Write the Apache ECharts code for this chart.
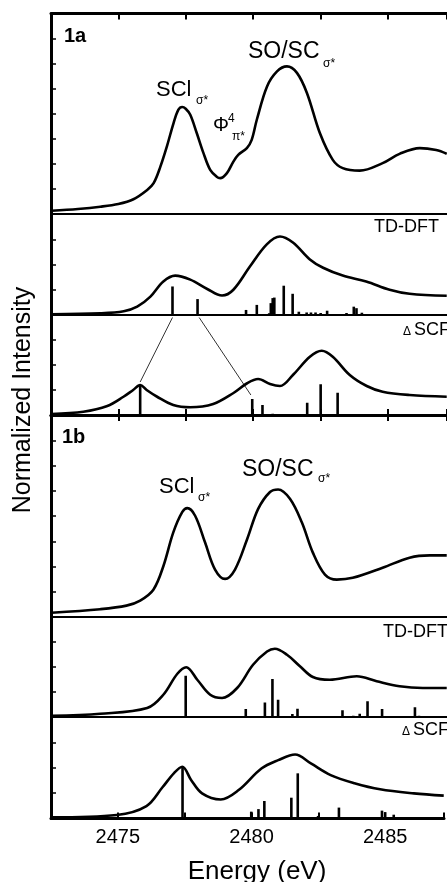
<!DOCTYPE html>
<html>
<head>
<meta charset="utf-8">
<script src="https://cdn.jsdelivr.net/npm/echarts@6/dist/echarts.min.js"></script>
<style>
  html, body { margin: 0; padding: 0; background: #fff; }
  #chart { width: 447px; height: 882px; }
</style>
</head>
<body>
<div id="chart"></div>
<script>
// energy range (eV)
var xMin = 2472.5, xMax = 2487.2;

// 1a - experiment
var exp1a = [[2472.52,0.13],[2473.5,0.2],[2474.33,0.29],[2475.0,0.4],[2475.56,0.59],[2476.07,0.96],[2476.31,1.23],
  [2476.56,1.89],[2476.8,2.69],[2477.05,3.63],[2477.23,4.16],[2477.37,4.27],[2477.5,4.2],[2477.67,3.96],[2477.91,3.23],
  [2478.16,2.43],[2478.41,1.76],[2478.65,1.49],[2478.78,1.43],[2479.03,1.63],[2479.27,2.09],[2479.45,2.36],[2479.77,2.63],
  [2479.95,2.96],[2480.14,3.76],[2480.52,5.09],[2480.89,5.69],[2481.26,5.89],[2481.63,5.63],[2482.0,4.83],[2482.48,3.23],
  [2482.96,2.16],[2483.33,1.83],[2483.96,1.73],[2484.81,2.03],[2485.44,2.4],[2486.19,2.63],[2486.8,2.55],[2487.19,2.4]];

// 1a - TD-DFT
var td1a = [[2472.52,0.03],[2474.33,0.07],[2475.2,0.15],[2475.7,0.33],[2476.19,0.73],[2476.67,1.33],[2477.11,1.56],
  [2477.67,1.4],[2478.3,1.03],[2478.85,0.77],[2479.27,1.0],[2479.89,1.93],[2480.51,2.8],[2481.0,3.11],[2481.48,2.87],
  [2482.11,2.2],[2482.6,1.87],[2483.33,1.56],[2484.2,1.33],[2485.07,1.0],[2485.81,0.84],[2487.19,0.76]];
var td1aSticks = [[2477.01,1.13],[2477.94,0.63],[2479.74,0.2],[2480.14,0.4],[2480.6,0.07],[2480.66,0.47],[2480.73,0.67],
  [2480.79,0.69],[2481.14,1.16],[2481.47,0.84],[2481.7,0.13],[2481.99,0.1],[2482.15,0.1],[2482.32,0.1],[2482.51,0.08],
  [2482.75,0.17],[2483.47,0.08],[2483.74,0.33],[2483.84,0.27],[2484.04,0.09]];

// 1a - delta SCF
var scf1a = [[2472.52,0.04],[2473.7,0.13],[2474.59,0.36],[2475.19,0.73],[2475.55,1.0],[2475.81,1.2],[2476.05,1.0],
  [2476.44,0.73],[2477.04,0.4],[2477.67,0.31],[2478.52,0.44],[2479.26,0.87],[2479.78,1.27],[2480.19,1.44],[2480.63,1.24],
  [2481.0,1.16],[2481.48,1.6],[2482.11,2.33],[2482.55,2.57],[2482.96,2.33],[2483.59,1.6],[2484.22,1.16],[2484.81,0.93],
  [2485.81,0.8],[2487.19,0.73]];
var scf1aSticks = [[2475.81,1.2],[2478.2,0.04],[2479.97,0.64],[2480.35,0.4],[2480.73,0.05],[2482.01,0.49],[2482.51,1.23],
  [2483.14,0.89]];

// lines linking TD-DFT sticks to delta SCF sticks (in delta SCF units)
var links = [
  [[2477.01,3.9],[2475.81,1.32]],
  [[2478.0,3.9],[2479.92,0.8]]
];

// 1b - experiment
var exp1b = [[2472.52,0.17],[2474.33,0.31],[2475.3,0.45],[2475.81,0.65],[2476.3,1.08],[2476.67,2.01],[2477.04,3.35],
  [2477.37,4.15],[2477.56,4.31],[2477.85,4.01],[2478.22,2.95],[2478.59,1.88],[2478.96,1.51],[2479.33,1.88],[2479.78,3.08],
  [2480.19,4.28],[2480.63,4.95],[2480.93,5.05],[2481.37,4.68],[2481.81,3.75],[2482.22,2.55],[2482.67,1.68],[2483.11,1.48],
  [2483.7,1.55],[2484.81,1.95],[2485.81,2.35],[2486.56,2.44],[2487.19,2.44]];

// 1b - TD-DFT
var td1b = [[2472.52,0.05],[2474.33,0.13],[2476.07,0.36],[2476.67,0.89],[2477.19,1.73],[2477.52,1.99],[2477.93,1.49],
  [2478.41,0.89],[2478.85,0.76],[2479.41,1.16],[2480.0,2.09],[2480.52,2.62],[2480.81,2.73],[2481.26,2.49],[2481.74,2.03],
  [2482.22,1.6],[2482.85,1.49],[2483.85,1.63],[2484.59,1.43],[2485.44,1.23],[2486.3,1.16],[2487.19,1.16]];
var td1bSticks = [[2477.5,1.65],[2479.73,0.32],[2480.44,0.58],[2480.72,1.52],[2480.93,0.69],[2481.46,0.12],[2481.65,0.33],
  [2483.32,0.27],[2483.72,0.05],[2483.96,0.13],[2484.25,0.63],[2484.79,0.32],[2486.01,0.39],[2486.16,0.05]];

// 1b - delta SCF
var scf1b = [[2472.52,0.05],[2474.96,0.14],[2476.07,0.49],[2476.67,1.23],[2477.11,1.8],[2477.41,2.04],[2477.74,1.52],
  [2478.15,0.99],[2478.85,0.75],[2479.52,1.12],[2480.37,1.97],[2481.0,2.3],[2481.63,2.52],[2482.22,2.17],[2482.96,1.71],
  [2483.85,1.39],[2484.81,1.15],[2486.07,0.99],[2487.19,0.9]];
var scf1bSticks = [[2477.42,2.04],[2479.99,0.27],[2480.26,0.37],[2480.48,0.69],[2481.49,0.82],[2481.73,1.78],[2482.49,0.1],
  [2483.27,0.43],[2484.88,0.31],[2485.0,0.25],[2485.32,0.15]];

var xTicks = [2475, 2480, 2485];

// panel layout: top, height, y max
var panels = [
  { top: 13.5, height: 200.5, ymax: 8 },
  { top: 214, height: 101, ymax: 4 },
  { top: 315, height: 100, ymax: 4 },
  { top: 415, height: 202, ymax: 8 },
  { top: 617, height: 100, ymax: 4 },
  { top: 717, height: 101.5, ymax: 4 }
];

var font = '"Liberation Sans", Arial, Helvetica, sans-serif';
var frame = [2, 5];   // bottoms with ticks

var grids = [], xAxes = [], yAxes = [];
panels.forEach(function (p, i) {
  grids.push({ left: 51, right: 0, top: p.top, height: p.height });
  var isFrame = frame.indexOf(i) >= 0;
  xAxes.push({
    type: 'value', gridIndex: i, min: xMin, max: xMax, interval: 2.5, position: 'bottom',
    axisLine: { onZero: false, lineStyle: { color: '#000', width: isFrame ? 3 : 2 } },
    axisTick: { show: isFrame, inside: true, length: 6, lineStyle: { color: '#000', width: 2 } },
    axisLabel: {
      show: i === 5, color: '#000', fontSize: 20, fontFamily: font, margin: 9,
      formatter: function (v) { return xTicks.indexOf(v) >= 0 ? String(v) : ''; }
    },
    splitLine: { show: false }
  });
  yAxes.push({
    type: 'value', gridIndex: i, min: 0, max: p.ymax, interval: 1,
    axisLine: { show: true, onZero: false, lineStyle: { color: '#000', width: 3 } },
    axisTick: { show: true, inside: true, length: 5, lineStyle: { color: '#000', width: 1.5 } },
    axisLabel: { show: false },
    splitLine: { show: false }
  });
});
// top frame axes of 1a and 1b
[0, 3].forEach(function (g) {
  xAxes.push({
    type: 'value', gridIndex: g, min: xMin, max: xMax, interval: 2.5, position: 'top',
    axisLine: { onZero: false, lineStyle: { color: '#000', width: 3 } },
    axisTick: { show: true, inside: true, length: 6, lineStyle: { color: '#000', width: 2 } },
    axisLabel: { show: false },
    splitLine: { show: false }
  });
});

function curve(data, i) {
  return {
    type: 'line', xAxisIndex: i, yAxisIndex: i, data: data, smooth: 0.35,
    showSymbol: false, silent: true,
    lineStyle: { color: '#000', width: 2.6 }
  };
}
function sticks(data, i) {
  return {
    type: 'bar', xAxisIndex: i, yAxisIndex: i, data: data, barWidth: 2.6,
    silent: true, itemStyle: { color: '#000' }
  };
}

var series = [
  curve(exp1a, 0),
  curve(td1a, 1), sticks(td1aSticks, 1),
  curve(scf1a, 2), sticks(scf1aSticks, 2),
  curve(exp1b, 3),
  curve(td1b, 4), sticks(td1bSticks, 4),
  curve(scf1b, 5), sticks(scf1bSticks, 5)
];
links.forEach(function (l) {
  series.push({
    type: 'line', xAxisIndex: 2, yAxisIndex: 2, data: l, showSymbol: false, silent: true, clip: false,
    lineStyle: { color: '#000', width: 0.8 }
  });
});

function txt(x, y, s, size, bold) {
  return {
    type: 'text', x: x, y: y, silent: true,
    style: {
      text: s, fill: '#000', textAlign: 'left', textVerticalAlign: 'middle',
      font: (bold ? 'bold ' : '') + size + 'px ' + font
    }
  };
}

var graphics = [
  txt(64, 36, '1a', 20, true),
  txt(156, 90, 'SCl', 22), txt(196, 101, 'σ*', 12),
  txt(213, 125, 'Φ', 20), txt(228, 119, '4', 12), txt(232, 137, 'π*', 12),
  txt(248, 52, 'SO/SC', 23), txt(323, 64, 'σ*', 12),
  txt(374, 227.5, 'TD-DFT', 18),
  txt(403, 331.5, 'Δ', 12), txt(414, 330.5, 'SCF', 18),
  txt(62, 437, '1b', 20, true),
  txt(159, 487, 'SCl', 22), txt(198, 498, 'σ*', 12),
  txt(242, 470, 'SO/SC', 23), txt(318, 479, 'σ*', 12),
  txt(383, 632, 'TD-DFT', 18),
  txt(402, 731.5, 'Δ', 12), txt(413, 730.5, 'SCF', 18),
  {
    type: 'text', x: 23, y: 400, rotation: Math.PI / 2, silent: true,
    style: { text: 'Normalized Intensity', fill: '#000', textAlign: 'center', textVerticalAlign: 'middle', font: '25px ' + font }
  },
  {
    type: 'text', x: 257, y: 872, silent: true,
    style: { text: 'Energy (eV)', fill: '#000', textAlign: 'center', textVerticalAlign: 'middle', font: '26px ' + font }
  }
];

var chart = echarts.init(document.getElementById('chart'));
chart.setOption({
  animation: false,
  backgroundColor: '#fff',
  grid: grids,
  xAxis: xAxes,
  yAxis: yAxes,
  series: series,
  graphic: graphics
});
window.addEventListener('resize', function () { chart.resize(); });
</script>
</body>
</html>
